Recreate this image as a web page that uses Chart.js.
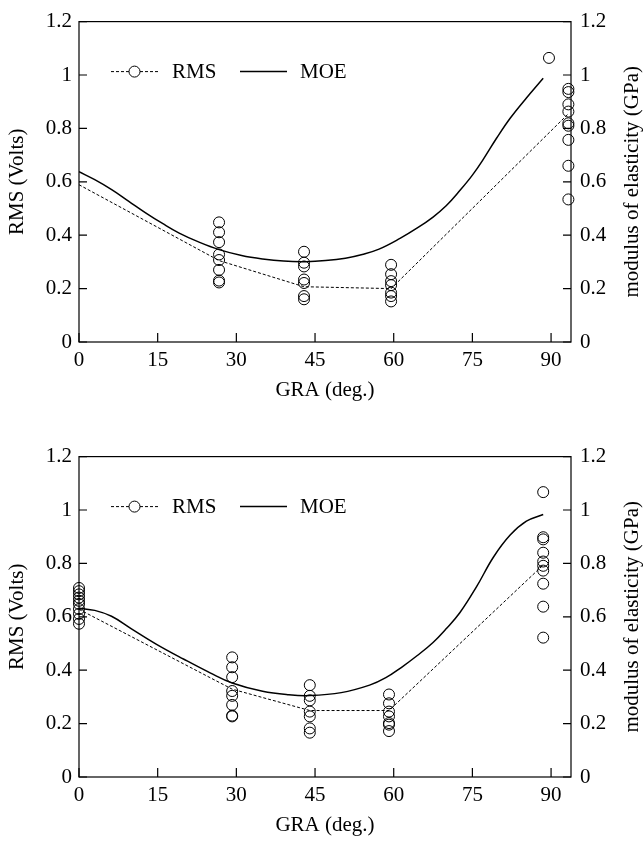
<!DOCTYPE html>
<html>
<head>
<meta charset="utf-8">
<script src="https://cdn.jsdelivr.net/npm/chart.js@4.4.1/dist/chart.umd.min.js"></script>
<style>
  body { margin: 0; background: #fff; width: 644px; height: 841px; position: relative; overflow: hidden; }
  .box { position: absolute; left: 0; width: 644px; height: 406px; }
</style>
</head>
<body>
<div class="box" style="top:0"><canvas id="top"></canvas></div>
<div class="box" style="top:435px"><canvas id="bottom"></canvas></div>
<script>
// ---- top panel ----
const topRmsX = [26.7, 26.7, 26.7, 26.7, 26.7, 26.7, 26.7, 26.7,
                 42.9, 42.9, 42.9, 42.9, 42.9, 42.9, 42.9,
                 59.5, 59.5, 59.5, 59.5, 59.5, 59.5, 59.5,
                 93.3, 93.3, 93.3, 93.3, 93.3, 93.3, 93.3, 93.3, 93.3,
                 89.6];
const topRmsY = [0.448, 0.411, 0.374, 0.328, 0.307, 0.270, 0.230, 0.223,
                 0.338, 0.297, 0.283, 0.234, 0.221, 0.172, 0.160,
                 0.289, 0.254, 0.228, 0.213, 0.185, 0.172, 0.152,
                 0.948, 0.936, 0.890, 0.863, 0.819, 0.810, 0.757, 0.660, 0.534,
                 1.064];
const topMeanX = [0, 26.7, 42.9, 59.5, 93.3];
const topMeanY = [0.589, 0.305, 0.207, 0.200, 0.855];
const topMoeX = [0, 3, 6.3, 9.5, 12.7, 16, 19.1, 23, 26.7, 31, 35, 39, 43.2, 47, 50.8, 54, 57.2, 61.2, 64.5, 67.5, 70, 72.6, 75, 77.1, 79.6, 82.2, 85.3, 88.5];
const topMoeY = [0.638, 0.608, 0.570, 0.527, 0.484, 0.443, 0.408, 0.373, 0.346, 0.324, 0.311, 0.303, 0.301, 0.305, 0.314, 0.328, 0.348, 0.388, 0.427, 0.468, 0.510, 0.567, 0.625, 0.685, 0.763, 0.838, 0.914, 0.988];

// ---- bottom panel ----
const botRmsX = [0, 0, 0, 0, 0, 0, 0, 0, 0, 0,
                 29.2, 29.2, 29.2, 29.2, 29.2, 29.2, 29.2, 29.2,
                 44.0, 44.0, 44.0, 44.0, 44.0, 44.0, 44.0,
                 59.1, 59.1, 59.1, 59.1, 59.1, 59.1, 59.1,
                 88.5, 88.5, 88.5, 88.5, 88.5, 88.5, 88.5, 88.5, 88.5, 88.5];
const botRmsY = [0.708, 0.696, 0.684, 0.672, 0.660, 0.648, 0.629, 0.611, 0.592, 0.574,
                 0.448, 0.411, 0.374, 0.322, 0.304, 0.270, 0.230, 0.227,
                 0.344, 0.304, 0.287, 0.245, 0.227, 0.182, 0.166,
                 0.309, 0.276, 0.245, 0.227, 0.202, 0.196, 0.172,
                 1.067, 0.898, 0.890, 0.840, 0.807, 0.791, 0.773, 0.724, 0.638, 0.522];
const botMeanX = [0, 29.2, 44.0, 59.1, 88.5];
const botMeanY = [0.628, 0.329, 0.249, 0.249, 0.794];
const botMoeX = [0, 3, 6.2, 10, 14.7, 20, 25, 29.2, 35, 40, 44, 50, 55.4, 58.5, 61.5, 64.5, 67.5, 70, 72.6, 75.8, 79, 82.2, 85.3, 88.5];
const botMoeY = [0.632, 0.624, 0.602, 0.555, 0.498, 0.441, 0.390, 0.352, 0.321, 0.308, 0.305, 0.316, 0.344, 0.372, 0.411, 0.455, 0.504, 0.555, 0.615, 0.713, 0.823, 0.906, 0.958, 0.983];

const xTicks = [0, 15, 30, 45, 60, 75, 90];
const xTitle = 'GRA (deg.)';
const yTitle = 'RMS (Volts)';
const y1Title = 'modulus of elasticity (GPa)';

Chart.defaults.font.family = "'Liberation Serif', 'Times New Roman', serif";
Chart.defaults.font.size = 21;
Chart.defaults.color = '#000';

const pts = (xs, ys) => xs.map((x, i) => ({x: x, y: ys[i]}));
const fmt = (v) => String(Math.round(v * 10) / 10);

// box, inward ticks, legend and right-hand title
const frame = {
  id: 'frame',
  afterDraw(chart) {
    const {ctx, chartArea: a, scales} = chart;
    ctx.save();
    ctx.strokeStyle = '#000';
    ctx.lineWidth = 1.2;
    ctx.strokeRect(a.left, a.top, a.right - a.left, a.bottom - a.top);
    ctx.beginPath();
    scales.x.ticks.forEach(t => {
      const px = scales.x.getPixelForValue(t.value);
      ctx.moveTo(px, a.bottom); ctx.lineTo(px, a.bottom - 9);
    });
    scales.y.ticks.forEach(t => {
      const py = scales.y.getPixelForValue(t.value);
      ctx.moveTo(a.left, py); ctx.lineTo(a.left + 8, py);
    });
    scales.y1.ticks.forEach(t => {
      const py = scales.y1.getPixelForValue(t.value);
      ctx.moveTo(a.right, py); ctx.lineTo(a.right - 8, py);
    });
    ctx.stroke();

    // legend
    const ly = a.top + 50;
    const lx = a.left;
    ctx.lineWidth = 1;
    ctx.setLineDash([3, 2]);
    ctx.beginPath();
    ctx.moveTo(lx + 32, ly); ctx.lineTo(lx + 50, ly);
    ctx.moveTo(lx + 61, ly); ctx.lineTo(lx + 81, ly);
    ctx.stroke();
    ctx.setLineDash([]);
    ctx.beginPath();
    ctx.arc(lx + 55.5, ly, 5.5, 0, Math.PI * 2);
    ctx.stroke();
    ctx.lineWidth = 1.5;
    ctx.beginPath();
    ctx.moveTo(lx + 161, ly); ctx.lineTo(lx + 208, ly);
    ctx.stroke();
    ctx.fillStyle = '#000';
    ctx.font = "21px 'Liberation Serif', serif";
    ctx.textBaseline = 'middle';
    ctx.textAlign = 'left';
    ctx.fillText('RMS', lx + 93, ly + 1);
    ctx.fillText('MOE', lx + 221, ly + 1);

    // right axis title, reading upward
    ctx.translate(632, (a.top + a.bottom) / 2);
    ctx.rotate(-Math.PI / 2);
    ctx.textAlign = 'center';
    ctx.fillText(y1Title, 0, 0);
    ctx.restore();
  }
};

function makeChart(id, rmsX, rmsY, meanX, meanY, moeX, moeY) {
  return new Chart(document.getElementById(id), {
    type: 'scatter',
    data: {
      datasets: [
        {
          label: 'MOE',
          data: pts(moeX, moeY),
          showLine: true,
          yAxisID: 'y1',
          borderColor: '#000',
          borderWidth: 1.5,
          pointRadius: 0,
          tension: 0.4,
        },
        {
          label: 'RMS mean',
          data: pts(meanX, meanY),
          showLine: true,
          borderColor: '#000',
          borderWidth: 1,
          borderDash: [3, 2],
          pointRadius: 0,
        },
        {
          label: 'RMS',
          data: pts(rmsX, rmsY),
          showLine: false,
          pointRadius: 5.5,
          pointBorderWidth: 1,
          pointBorderColor: '#000',
          pointBackgroundColor: 'rgba(0,0,0,0)',
          clip: false,
        },
      ],
    },
    options: {
      responsive: true,
      maintainAspectRatio: false,
      animation: false,
      events: [],
      layout: { padding: { top: 15, left: 0, right: 0, bottom: 0 } },
      plugins: { legend: { display: false }, tooltip: { enabled: false } },
      scales: {
        x: {
          type: 'linear',
          min: 0,
          max: 93.8,
          afterBuildTicks: (s) => { s.ticks = xTicks.map(v => ({value: v})); },
          afterFit: (s) => { s.height = 64; },
          grid: { display: false, drawTicks: false },
          border: { display: false },
          ticks: { padding: 6, maxRotation: 0 },
          title: { display: true, text: xTitle, padding: { top: 0, bottom: 3 } },
        },
        y: {
          position: 'left',
          min: 0,
          max: 1.2,
          afterFit: (s) => { s.width = 79; },
          grid: { display: false, drawTicks: false },
          border: { display: false },
          ticks: { stepSize: 0.2, padding: 7, callback: fmt },
          title: { display: true, text: yTitle, padding: { top: 5, bottom: 0 } },
        },
        y1: {
          position: 'right',
          min: 0,
          max: 1.2,
          afterFit: (s) => { s.width = 73; },
          grid: { display: false, drawTicks: false },
          border: { display: false },
          ticks: { stepSize: 0.2, padding: 9, callback: fmt },
        },
      },
    },
    plugins: [frame],
  });
}

makeChart('top', topRmsX, topRmsY, topMeanX, topMeanY, topMoeX, topMoeY);
makeChart('bottom', botRmsX, botRmsY, botMeanX, botMeanY, botMoeX, botMoeY);
</script>
</body>
</html>
